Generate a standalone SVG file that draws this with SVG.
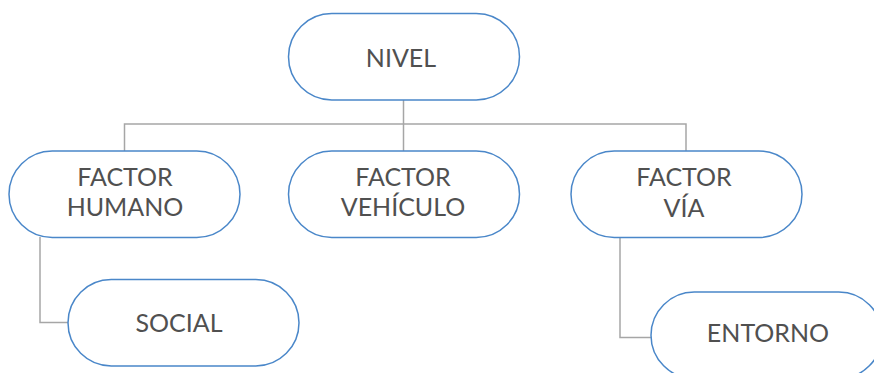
<svg xmlns="http://www.w3.org/2000/svg" width="874" height="373" viewBox="0 0 874 373">
<style>
.node{fill:#ffffff;stroke:#4a87c9;stroke-width:1.5}
.lbl{font-family:Lato,"Open Sans","Liberation Sans",sans-serif;font-size:25px;fill:#505050;text-anchor:middle}
.conn{fill:none;stroke:#a6a6a6;stroke-width:1.5}
</style>
<rect width="874" height="373" fill="#ffffff"/>
<g id="connectors">
<path class="conn" d="M403.5 100 V124 M124.5 151 V124 H686 V151 M403.5 124 V151"/>
<path class="conn" d="M40 237 V322.5 H68"/>
<path class="conn" d="M620 237 V337.5 H651"/>
</g>
<g id="nivel">
<rect class="node" x="288.5" y="13.5" width="231" height="86.5" rx="43.25"/>
<text class="lbl" x="401" y="66.5">NIVEL</text>
</g>
<g id="factor-humano">
<rect class="node" x="9" y="151" width="231" height="86.5" rx="43.25"/>
<text class="lbl"><tspan x="125" y="185.5">FACTOR</tspan><tspan x="125" y="216">HUMANO</tspan></text>
</g>
<g id="factor-vehiculo">
<rect class="node" x="288.5" y="151" width="231" height="86.5" rx="43.25"/>
<text class="lbl"><tspan x="403" y="185.5">FACTOR</tspan><tspan x="403" y="216">VEHÍCULO</tspan></text>
</g>
<g id="factor-via">
<rect class="node" x="571" y="151" width="231" height="86.5" rx="43.25"/>
<text class="lbl"><tspan x="684" y="185.5">FACTOR</tspan><tspan x="684" y="216.5">VÍA</tspan></text>
</g>
<g id="social">
<rect class="node" x="68" y="279.5" width="231" height="86.5" rx="43.25"/>
<text class="lbl" x="179" y="331.5">SOCIAL</text>
</g>
<g id="entorno">
<rect class="node" x="651" y="292" width="231" height="86.5" rx="43.25"/>
<text class="lbl" x="768" y="342">ENTORNO</text>
</g>
</svg>
